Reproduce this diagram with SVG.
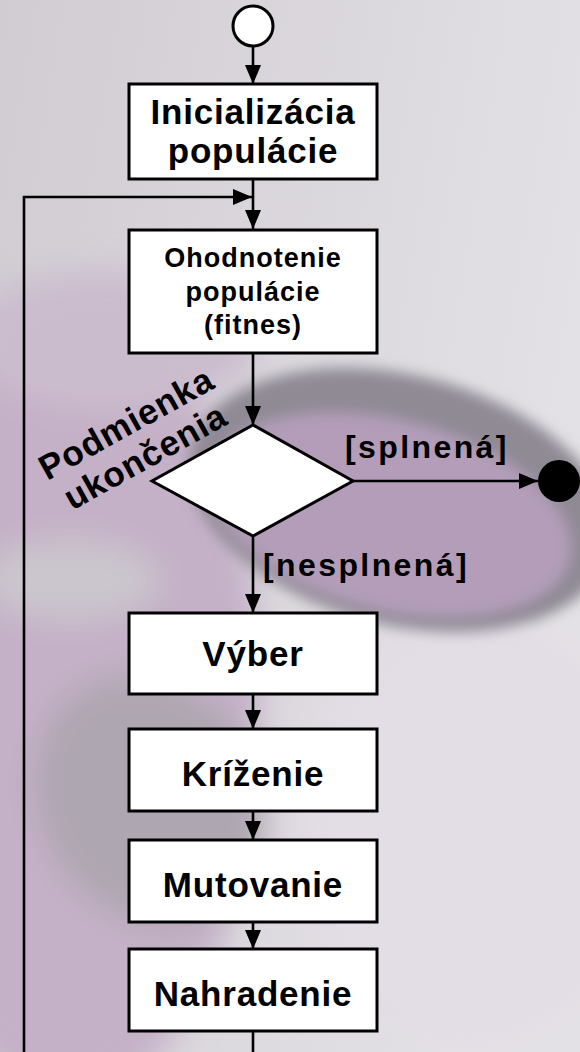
<svg xmlns="http://www.w3.org/2000/svg" width="580" height="1052" viewBox="0 0 580 1052">
  <defs>
    <style>
      .box { fill: #ffffff; stroke: #000000; stroke-width: 3; }
      .line { fill: none; stroke: #000000; stroke-width: 2.6; }
      .t { font-family: "Liberation Sans", Arial, sans-serif; font-weight: bold; fill: #000000; text-anchor: middle; }
      .big { font-size: 35px; letter-spacing: 0.8px; }
      .mid { font-size: 27px; letter-spacing: 1px; }
      .lbl { font-family: "Liberation Sans", Arial, sans-serif; font-weight: bold; fill: #000000; font-size: 32px; letter-spacing: 2.4px; }
    </style>
    <marker id="arr" markerUnits="userSpaceOnUse" markerWidth="19" markerHeight="16" viewBox="0 0 19 16" refX="19" refY="8" orient="auto">
      <path d="M0,0 L19,8 L0,16 z" fill="#000000"/>
    </marker>
    <filter id="blur" x="-20%" y="-20%" width="140%" height="140%">
      <feGaussianBlur stdDeviation="16"/>
    </filter>
    <filter id="blur2" x="-20%" y="-20%" width="140%" height="140%">
      <feGaussianBlur stdDeviation="7"/>
    </filter>
    <linearGradient id="bgGrad" x1="0" y1="0" x2="1" y2="0.3">
      <stop offset="0" stop-color="#d0ccd2"/>
      <stop offset="1" stop-color="#e4e1e6"/>
    </linearGradient>
  </defs>

  <g id="background">
    <rect x="0" y="0" width="580" height="1052" fill="url(#bgGrad)"/>
    <g filter="url(#blur)">
      <ellipse cx="70" cy="700" rx="190" ry="400" fill="#c4b0c7"/>
      <ellipse cx="110" cy="340" rx="150" ry="70" fill="#cbbccd"/>
      <ellipse cx="470" cy="830" rx="170" ry="210" fill="#e3dde6"/>
      <ellipse cx="150" cy="800" rx="110" ry="130" fill="#aea6b0" transform="rotate(-30 150 800)"/>
      <ellipse cx="70" cy="580" rx="90" ry="40" fill="#cbc6cd"/>
    </g>
    <g filter="url(#blur2)">
      <ellipse cx="400" cy="500" rx="215" ry="125" fill="#8f8a94" transform="rotate(14 400 500)"/>
      <ellipse cx="390" cy="515" rx="185" ry="95" fill="#b39db9" transform="rotate(14 390 515)"/>
    </g>
  </g>

  <g id="connectors">
    <line class="line" x1="253" y1="47" x2="253" y2="84" marker-end="url(#arr)"/>
    <line class="line" x1="253" y1="179" x2="253" y2="229" marker-end="url(#arr)"/>
    <polyline class="line" points="24,1052 24,197 252,197" marker-end="url(#arr)"/>
    <line class="line" x1="253" y1="353" x2="253" y2="425" marker-end="url(#arr)"/>
    <line class="line" x1="353" y1="481" x2="538" y2="481" marker-end="url(#arr)"/>
    <line class="line" x1="253" y1="536" x2="253" y2="613" marker-end="url(#arr)"/>
    <line class="line" x1="253" y1="694" x2="253" y2="729" marker-end="url(#arr)"/>
    <line class="line" x1="253" y1="811" x2="253" y2="840" marker-end="url(#arr)"/>
    <line class="line" x1="253" y1="922" x2="253" y2="949" marker-end="url(#arr)"/>
    <line class="line" x1="253" y1="1031" x2="253" y2="1052"/>
    <text class="lbl" x="345" y="458">[splnená]</text>
    <text class="lbl" x="263" y="576">[nesplnená]</text>
  </g>

  <g id="start">
    <circle cx="253" cy="26" r="20" fill="#ffffff" stroke="#000000" stroke-width="3"/>
  </g>

  <g id="inicializacia">
    <rect class="box" x="129" y="84" width="248" height="95"/>
    <text class="t big" x="253" y="124">Inicializácia</text>
    <text class="t big" x="253" y="163">populácie</text>
  </g>

  <g id="ohodnotenie">
    <rect class="box" x="129" y="230" width="248" height="123"/>
    <text class="t mid" x="253" y="267">Ohodnotenie</text>
    <text class="t mid" x="253" y="301">populácie</text>
    <text class="t mid" x="253" y="334">(fitnes)</text>
  </g>

  <g id="podmienka">
    <polygon points="253,425 353,481 253,536 152,481" fill="#ffffff" stroke="#000000" stroke-width="3" stroke-linejoin="miter"/>
    <text class="t big" x="132" y="434" transform="rotate(-29 132 434)">Podmienka</text>
    <text class="t big" x="151" y="467" transform="rotate(-29 151 467)">ukončenia</text>
  </g>

  <g id="koniec">
    <circle cx="559" cy="481" r="21" fill="#000000"/>
  </g>

  <g id="vyber">
    <rect class="box" x="129" y="613" width="248" height="81"/>
    <text class="t big" x="253" y="666">Výber</text>
  </g>

  <g id="krizenie">
    <rect class="box" x="129" y="729" width="248" height="82"/>
    <text class="t big" x="253" y="786">Kríženie</text>
  </g>

  <g id="mutovanie">
    <rect class="box" x="129" y="840" width="248" height="82"/>
    <text class="t big" x="253" y="897">Mutovanie</text>
  </g>

  <g id="nahradenie">
    <rect class="box" x="129" y="949" width="248" height="82"/>
    <text class="t big" x="253" y="1006">Nahradenie</text>
  </g>
</svg>
